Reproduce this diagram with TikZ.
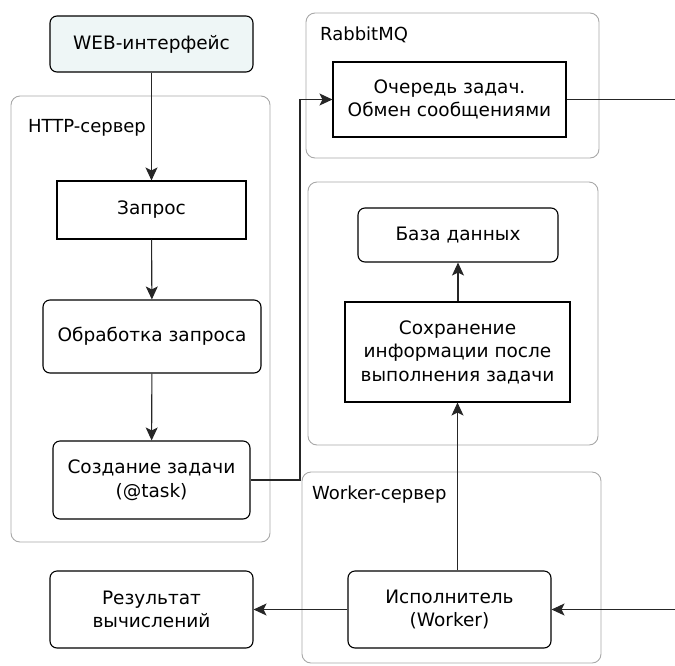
\documentclass[tikz,border=0pt]{standalone}
\usepackage{fontspec}
\setmainfont{DejaVu Sans}
\usetikzlibrary{arrows.meta}
\definecolor{grp}{HTML}{A8A8A8}
\definecolor{webfill}{HTML}{EEF6F6}
\begin{document}
\begin{tikzpicture}[x=1pt,y=-1pt,
  txt/.style={font=\fontsize{18.5}{23.5}\selectfont, align=center},
  sq/.style={draw=black, line width=1.1pt, txt},
  rnd/.style={draw=black, line width=1.1pt, rounded corners=7pt, txt},
  grpbox/.style={draw=grp, line width=0.9pt, rounded corners=9pt},
  grplabel/.style={font=\fontsize{18}{22}\selectfont, anchor=west, inner sep=0pt},
  conn/.style={draw=black!85, line width=1.1pt, -{Stealth[length=13pt,width=12pt,inset=3pt]}},
  plain/.style={draw=black!85, line width=1.1pt}]
\useasboundingbox (0,0) rectangle (675,665);
% groups
\draw[grpbox] (11,96) rectangle (270,542);
\node[grplabel] (lhttp) at (28,128) {HTTP-сервер};
\draw[grpbox] (306,13) rectangle (599,158);
\node[grplabel] (lrabbit) at (320,35) {RabbitMQ};
\draw[grpbox] (308,182) rectangle (598,445);
\draw[grpbox] (302,472) rectangle (601,663);
\node[grplabel] (lworker) at (312,495) {Worker-сервер};
% nodes
\node[rnd, fill=webfill, minimum width=203pt, minimum height=56pt] (web) at (151.5,44) {WEB-интерфейс};
\node[sq, minimum width=189pt, minimum height=58pt] (req) at (151.5,210) {Запрос};
\node[rnd, minimum width=218pt, minimum height=73pt] (proc) at (152,336.5) {Обработка запроса};
\node[rnd, minimum width=197pt, minimum height=78pt] (task) at (151.5,480) {Создание задачи\\(@task)};
\node[sq, minimum width=233pt, minimum height=75pt] (queue) at (449.5,99.5) {Очередь задач.\\Обмен сообщениями};
\node[rnd, minimum width=200pt, minimum height=54pt] (db) at (458,235) {База данных};
\node[sq, minimum width=225pt, minimum height=100pt] (save) at (457.5,352) {Сохранение\\информации после\\выполнения задачи};
\node[rnd, minimum width=203pt, minimum height=77pt] (worker) at (449.5,609.5) {Исполнитель\\(Worker)};
\node[rnd, minimum width=203pt, minimum height=77pt] (result) at (151.5,609.5) {Результат\\вычислений};
\coordinate (outq) at (675,99.5);
\coordinate (inw) at (675,609.5);
% connectors
\draw[conn] (web) -- (req);
\draw[conn] (req) -- (proc);
\draw[conn] (proc) -- (task);
\draw[conn] (task.east) -| (300,99.5) -- (queue.west);
\draw[plain] (queue.east) -- (outq);
\draw[conn] (save.north -| db.south) -- (db.south);
\draw[conn] (worker.north -| save.south) -- (save.south);
\draw[conn] (inw) -- (worker.east);
\draw[conn] (worker.west) -- (result.east);
\end{tikzpicture}
\end{document}
